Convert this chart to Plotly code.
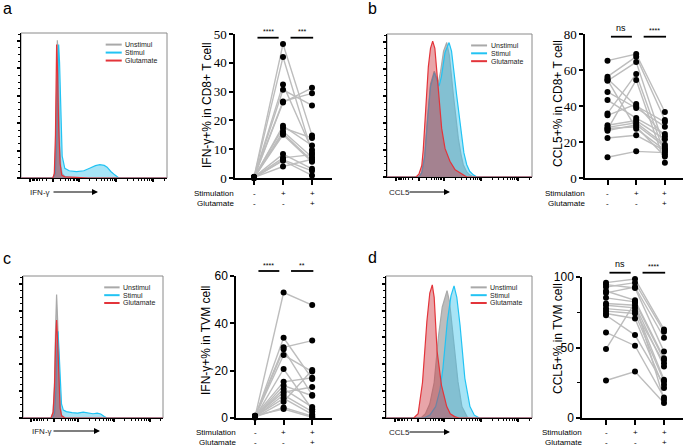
import math
import plotly.graph_objects as go

W, H = 685, 447

# ---------------- DATA ----------------
# Histogram curves (x: position along the fluorescence axis, 0-100 ; y: % of max)
hist_a_gray_x = [0, 21.5, 22.5, 23.3, 24.0, 24.6, 24.9, 25.3, 25.8, 26.5, 27.3, 28.2, 30, 35, 100]
hist_a_gray_y = [0, 0, 1, 6, 35, 80, 95, 88, 55, 22, 8, 3, 1, 0.3, 0]
hist_a_cyan_x = [0, 22, 23.5, 24.5, 25.2, 25.8, 26.4, 27.2, 28.2, 30, 33, 38, 43, 47, 51, 54, 57, 59, 61.5, 64.4, 67, 100]
hist_a_cyan_y = [0, 0, 3, 25, 70, 92, 80, 40, 15, 6.7, 5, 4.4, 5, 6.7, 8.5, 9.2, 8.7, 7.5, 4.5, 2, 0, 0]
hist_a_red_x = [0, 21.8, 22.8, 23.6, 24.4, 25.0, 25.8, 26.8, 27.9, 30, 38, 44, 46, 100]
hist_a_red_y = [0, 0, 3, 30, 92, 75, 35, 10, 2, 0.8, 0.5, 0.3, 0, 0]

hist_b_gray_x = [0, 22, 24, 26, 28, 30, 32.6, 34, 35.4, 37, 39, 41.2, 43, 45.7, 47.5, 49.2, 51, 52.6, 55, 57, 60, 100]
hist_b_gray_y = [0, 0, 3, 15, 42, 65, 74, 70, 66, 74, 88, 94, 85, 58, 42, 27, 16, 8.6, 3.5, 1.5, 0, 0]
hist_b_cyan_x = [0, 22, 24, 26, 28, 30, 32.6, 34, 35.9, 37.5, 40, 42.8, 44.5, 48, 50, 51.5, 53, 55, 57, 59.5, 62, 100]
hist_b_cyan_y = [0, 0, 3, 14, 40, 63, 73, 69, 63.5, 70, 87, 94, 88, 57.5, 40, 27, 17, 8.6, 4, 1.5, 0, 0]
hist_b_red_x = [0, 20, 22, 24, 25, 26.5, 28.5, 30, 31.5, 33, 34.5, 35.5, 37.7, 40, 43.4, 47, 51.5, 55, 100]
hist_b_red_y = [0, 0, 2, 8, 19, 45, 77, 90, 95, 90, 72, 58, 34, 20, 11, 5, 2, 0, 0]

hist_c_gray_x = [0, 20, 21.5, 22.5, 23.3, 24, 24.7, 25.5, 26.5, 27.6, 30, 100]
hist_c_gray_y = [0, 0, 4, 25, 65, 87, 70, 35, 10, 2, 0, 0]
hist_c_cyan_x = [0, 21, 22.5, 23.5, 24.3, 25, 25.7, 26.5, 27.5, 28.8, 31, 35, 39, 43, 47, 50, 53, 55.5, 58, 60, 100]
hist_c_cyan_y = [0, 0, 3, 20, 50, 61, 48, 25, 10, 5.6, 4.5, 3.8, 3.5, 4.2, 3.5, 3.0, 3.4, 2.8, 1.0, 0, 0]
hist_c_red_x = [0, 20, 21.5, 22.5, 23.3, 24, 24.7, 25.5, 26.5, 27.6, 30, 100]
hist_c_red_y = [0, 0, 4, 22, 55, 69, 55, 25, 7, 1.5, 0, 0]

hist_d_gray_x = [0, 24, 27, 30, 33, 36, 38.5, 40.3, 41.8, 43.5, 46, 49.3, 52, 56, 100]
hist_d_gray_y = [0, 0, 3, 10, 25, 58, 78, 84, 89.7, 82, 58, 25.6, 8, 0, 0]
hist_d_cyan_x = [0, 26, 30, 34, 37, 39, 42, 44.5, 46.6, 48.5, 50.7, 54, 57.5, 60.5, 64, 100]
hist_d_cyan_y = [0, 0, 2, 8, 20, 35, 68, 86, 93, 85, 65.5, 28, 8, 2, 0, 0]
hist_d_red_x = [0, 19, 22, 25, 28, 30, 31.7, 33, 35, 38, 41.6, 44, 47, 50, 100]
hist_d_red_y = [0, 0, 3, 25, 68, 88, 93.7, 85, 47, 23, 8, 3, 1, 0, 0]

legend_names = ["Unstimul", "Stimul", "Glutamate"]
hist_labels = ["IFN-γ", "CCL5", "IFN-γ", "CCL5"]

# Paired dot plots (Unstim, Stim, Stim+Glutamate)
a_unstim = [0.3, 0.1, 0.2, 0.0, 0.4, 0.2, 0.1, 0.3, 0.0, 0.2, 0.1, 0.3, 0.2, 0.0, 0.1, 0.2]
a_stim = [46.5, 42.0, 32.5, 30.6, 26.6, 26.2, 18.1, 17.4, 16.2, 15.5, 15.0, 8.3, 7.0, 6.3, 6.0, 4.0]
a_glut = [14.8, 8.8, 9.7, 25.2, 29.4, 31.3, 11.3, 13.9, 7.2, 6.0, 5.6, 3.2, 8.1, 2.5, 0.9, 6.5]

b_unstim = [65.2, 56.3, 55.2, 54.0, 47.8, 43.3, 35.9, 34.8, 29.3, 28.1, 27.0, 26.3, 22.2, 11.5, 27.5, 54.5]
b_stim = [68.9, 67.4, 40.0, 64.4, 38.9, 33.3, 57.8, 41.1, 31.9, 30.7, 54.4, 29.6, 23.7, 14.8, 28.5, 27.4]
b_glut = [36.7, 32.2, 31.1, 16.3, 28.5, 24.4, 13.0, 23.0, 21.5, 18.5, 8.5, 17.4, 15.2, 14.1, 11.9, 15.5]

c_unstim = [0.5, 0.3, 0.8, 0.4, 0.6, 0.2, 0.9, 0.5, 0.3, 0.7, 0.4, 0.6, 0.2, 0.5, 1.0]
c_stim = [53.0, 33.9, 29.9, 29.0, 26.6, 20.7, 15.3, 13.7, 12.3, 10.9, 9.7, 8.3, 6.9, 4.4, 3.8]
c_glut = [47.7, 16.5, 32.7, 9.7, 19.6, 3.7, 17.0, 9.4, 4.6, 13.1, 2.7, 1.5, 20.3, 0.8, 0.3]

d_unstim = [96.0, 94.6, 92.9, 90.1, 88.7, 85.2, 81.2, 80.0, 77.6, 75.8, 74.1, 72.9, 60.7, 48.9, 26.6]
d_stim = [98.6, 92.2, 96.0, 83.5, 92.9, 82.4, 80.0, 78.1, 75.8, 74.1, 70.6, 58.8, 51.3, 82.0, 32.9]
d_glut = [62.8, 47.1, 61.2, 42.4, 56.9, 41.2, 36.5, 27.1, 38.8, 25.9, 21.2, 23.5, 14.6, 12.9, 10.6]

dot_titles = ["IFN-γ+% in CD8+ T cell", "CCL5+% in CD8+ T cell", "IFN-γ+% in TVM cell", "CCL5+% in TVM cell"]
row_labels = ["Stimulation", "Glutamate"]
stim_signs = ["-", "+", "+"]
glut_signs = ["-", "-", "+"]
sig_a = ["****", "***"]
sig_b = ["ns", "****"]
sig_c = ["****", "**"]
sig_d = ["ns", "****"]
panel_letters = ["a", "b", "c", "d"]

# ---------------- STYLE ----------------
GRAY_L, GRAY_F = "#a9a9a9", "rgba(135,135,135,0.55)"
CYAN_L, CYAN_F = "#22c3f3", "rgba(60,195,235,0.45)"
RED_L, RED_F = "#e3343a", "rgba(205,55,65,0.45)"
SANS = "Liberation Sans, Arial, sans-serif"
SERIF = "Liberation Serif, Times New Roman, serif"


def fx(p):
    return p / W


def fy(p):
    return 1 - p / H


def ax_names(i):
    s = "" if i == 1 else str(i)
    return "x" + s, "y" + s, "xaxis" + s, "yaxis" + s


fig = go.Figure()
layout = dict(width=W, height=H, margin=dict(l=0, r=0, t=0, b=0, pad=0, autoexpand=False),
              paper_bgcolor="white", plot_bgcolor="rgba(0,0,0,0)", showlegend=False)
shapes, annotations = [], []

# histogram tick positions (biexponential-like axis decoration)
hx_major = [6, 22, 39.5, 65, 90.5]
hx_minor = []
for k in range(2, 10):
    lk = math.log10(k)
    hx_minor += [22 - 15 * lk, 22 + 17.5 * lk, 39.5 + 25.5 * lk, 65 + 25.5 * lk]
    if 90.5 + 25.5 * lk < 100:
        hx_minor.append(90.5 + 25.5 * lk)
hy_major = [0, 18.9, 37.8, 56.7, 75.6, 94.5]
hy_minor = [m + 18.9 * j / 4 for m in hy_major[:-1] for j in (1, 2, 3)] + [94.5 + 4.7]

hist_specs = [
    (1, 21, 167, 33, 178, [(hist_a_gray_x, hist_a_gray_y), (hist_a_cyan_x, hist_a_cyan_y), (hist_a_red_x, hist_a_red_y)], 0, 52, 98, 28, 192),
    (3, 387, 532, 34, 177, [(hist_b_gray_x, hist_b_gray_y), (hist_b_cyan_x, hist_b_cyan_y), (hist_b_red_x, hist_b_red_y)], 1, 408, 450, 387, 192),
    (5, 23, 163, 276, 418, [(hist_c_gray_x, hist_c_gray_y), (hist_c_cyan_x, hist_c_cyan_y), (hist_c_red_x, hist_c_red_y)], 2, 52, 100, 30, 431),
    (7, 386, 532, 276, 418, [(hist_d_gray_x, hist_d_gray_y), (hist_d_cyan_x, hist_d_cyan_y), (hist_d_red_x, hist_d_red_y)], 3, 408, 450, 387, 432),
]
cols = [(GRAY_L, GRAY_F), (CYAN_L, CYAN_F), (RED_L, RED_F)]

for idx, l, r, t, b, curves, li, a0, a1, lx, ly in hist_specs:
    xa, ya, xk, yk = ax_names(idx)
    for (cx, cy), (lc, fc) in zip(curves, cols):
        fig.add_trace(go.Scatter(x=cx, y=cy, xaxis=xa, yaxis=ya, mode="lines", fill="tozeroy",
                                 line=dict(color=lc, width=1.2), fillcolor=fc, hoverinfo="skip"))
    layout[xk] = dict(domain=[fx(l), fx(r)], range=[0, 100], anchor=ya, showline=True, linecolor="black",
                      linewidth=1, ticks="outside", tickvals=hx_major, ticklen=3, tickwidth=1.6,
                      tickcolor="black", showticklabels=False, showgrid=False, zeroline=False, automargin=False,
                      minor=dict(tickvals=hx_minor, ticks="outside", ticklen=2, tickwidth=0.8, tickcolor="black"))
    layout[yk] = dict(domain=[fy(b), fy(t)], range=[0, 100], anchor=xa, showline=True, linecolor="black",
                      linewidth=1, ticks="outside", tickvals=hy_major, ticklen=3, tickwidth=1.8,
                      tickcolor="black", showticklabels=False, showgrid=False, zeroline=False, automargin=False,
                      minor=dict(tickvals=hy_minor, ticks="outside", ticklen=2, tickwidth=0.8, tickcolor="black"))
    shapes.append(dict(type="rect", xref=f"{xa} domain", yref=f"{ya} domain", x0=0, x1=1, y0=0, y1=1,
                       line=dict(color="#8a8a8a", width=1), layer="below"))
    # legend
    for j, (name, (lc, _)) in enumerate(zip(legend_names, cols)):
        yy = [0.92, 0.865, 0.81][j]
        shapes.append(dict(type="line", xref=f"{xa} domain", yref=f"{ya} domain", x0=0.58, x1=0.69,
                           y0=yy, y1=yy, line=dict(color=lc, width=2)))
        annotations.append(dict(xref=f"{xa} domain", yref=f"{ya} domain", x=0.70, y=yy, text=name,
                                showarrow=False, xanchor="left", yanchor="middle",
                                font=dict(family=SANS, size=7, color="#222")))
    # axis label with arrow
    annotations.append(dict(xref="paper", yref="paper", x=fx(lx), y=fy(ly), text=hist_labels[li],
                            showarrow=False, xanchor="left", yanchor="middle",
                            font=dict(family=SANS, size=8, color="#222")))
    annotations.append(dict(xref="paper", yref="paper", x=fx(a1), y=fy(ly), text="", showarrow=True,
                            axref="pixel", ayref="pixel", ax=-(a1 - a0), ay=0, arrowhead=2, arrowsize=1,
                            arrowwidth=1.2, arrowcolor="black"))

dot_specs = [
    (2, (a_unstim, a_stim, a_glut), 235, 332, 34, 178, 50, [0, 10, 20, 30, 40, 50], [], SERIF, 13, 254, 29, 207, 105, sig_a, 37.7, (193, 203)),
    (4, (b_unstim, b_stim, b_glut), 585, 683, 34, 178, 80, [0, 20, 40, 60, 80], [], SERIF, 13, 607.5, 28.7, 558, 104, sig_b, 36.7, (193, 203)),
    (6, (c_unstim, c_stim, c_glut), 236, 332, 276, 418, 60, [0, 20, 40, 60], [], SANS, 12, 255, 28.6, 206, 341, sig_c, 271, (432.5, 442)),
    (8, (d_unstim, d_stim, d_glut), 582, 683, 277, 418, 100, [0, 50, 100], [25, 75], SANS, 12, 606, 29, 558, 339, sig_d, 272.7, (432.5, 442)),
]

for n, (idx, (u, s, g), l, r, t, b, ymax, tv, mv, fam, fs, c0, sp, tx, ty, sig, sy, rows) in enumerate(dot_specs):
    xa, ya, xk, yk = ax_names(idx)
    for i in range(len(u)):
        fig.add_trace(go.Scatter(x=[0, 1, 2], y=[u[i], s[i], g[i]], xaxis=xa, yaxis=ya, mode="lines",
                                 line=dict(color="#bdbdbd", width=1.4), cliponaxis=False, hoverinfo="skip"))
    fig.add_trace(go.Scatter(x=[0] * len(u) + [1] * len(s) + [2] * len(g), y=list(u) + list(s) + list(g),
                             xaxis=xa, yaxis=ya, mode="markers", cliponaxis=False,
                             marker=dict(color="black", size=6)))
    x_lo = (l - c0) / sp
    x_hi = (r - c0) / sp
    layout[xk] = dict(domain=[fx(l), fx(r)], range=[x_lo, x_hi], anchor=ya, showline=True,
                      linecolor="black", linewidth=1.5, ticks="outside", tickvals=[0, 1, 2],
                      ticklen=5, tickwidth=1.5, tickcolor="black", showticklabels=False,
                      showgrid=False, zeroline=False, automargin=False)
    ydict = dict(domain=[fy(b), fy(t)], range=[0, ymax], anchor=xa, showline=True, linecolor="black",
                 linewidth=1.5, ticks="outside", tickvals=tv, ticklen=4, tickwidth=1.5, tickcolor="black",
                 tickfont=dict(family=fam, size=fs, color="black"), showgrid=False, zeroline=False,
                 automargin=False)
    if mv:
        ydict["minor"] = dict(tickvals=mv, ticks="outside", ticklen=3, tickwidth=1.2, tickcolor="black")
    layout[yk] = ydict
    annotations.append(dict(xref="paper", yref="paper", x=fx(tx), y=fy(ty), text=dot_titles[n],
                            textangle=-90, showarrow=False, xanchor="center", yanchor="middle",
                            font=dict(family=SANS, size=12, color="black")))
    for rl, ry, signs in zip(row_labels, rows, (stim_signs, glut_signs)):
        annotations.append(dict(xref="paper", yref="paper", x=fx(l + 1.5), y=fy(ry), text=rl, showarrow=False,
                                xanchor="right", yanchor="middle", font=dict(family=SANS, size=8, color="black")))
        for k, sg in enumerate(signs):
            annotations.append(dict(xref=xa, yref="paper", x=k, y=fy(ry), text=sg, showarrow=False,
                                    xanchor="center", yanchor="middle",
                                    font=dict(family=SANS, size=8, color="black")))
    for (x0, x1), txt in zip([(0.12, 0.85), (1.26, 2.04)], sig):
        shapes.append(dict(type="line", xref=xa, yref="paper", x0=x0, x1=x1, y0=fy(sy), y1=fy(sy),
                           line=dict(color="black", width=1.8)))
        is_ns = txt == "ns"
        annotations.append(dict(xref=xa, yref="paper", x=(x0 + x1) / 2, y=fy(sy - (1.5 if is_ns else 0.5)),
                                text=txt, showarrow=False, xanchor="center", yanchor="bottom",
                                font=dict(family=SANS, size=9 if is_ns else 7, color="black")))

for letter, (lxp, lyp) in zip(panel_letters, [(1, 8), (366, 8), (1, 258), (366, 257)]):
    annotations.append(dict(xref="paper", yref="paper", x=fx(lxp), y=fy(lyp), text=letter, showarrow=False,
                            xanchor="left", yanchor="middle", font=dict(family=SANS, size=16, color="black")))

layout["shapes"] = shapes
layout["annotations"] = annotations
fig.update_layout(**layout)
fix_page = ("document.body.style.margin='0px';document.body.style.padding='0px';"
            "var gd=document.querySelector('.plotly-graph-div');"
            "gd.style.position='absolute';gd.style.top='0px';gd.style.left='0px';")
fig.write_html("out.html", config={"displayModeBar": False}, post_script=fix_page)
